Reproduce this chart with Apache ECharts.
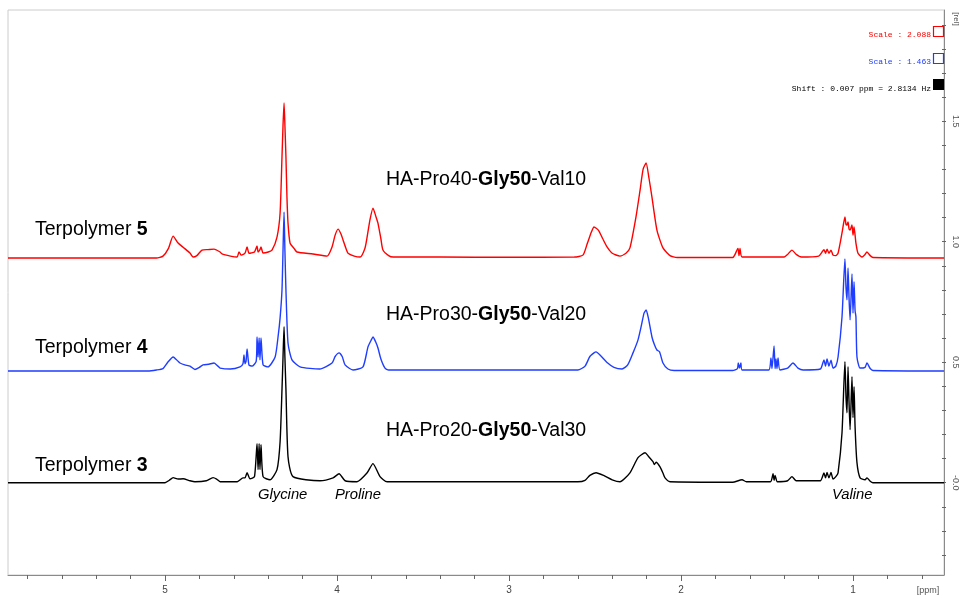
<!DOCTYPE html>
<html><head><meta charset="utf-8">
<script src="https://cdn.jsdelivr.net/npm/echarts@6/dist/echarts.min.js"></script>
<style>html,body{margin:0;padding:0;background:#fff}#c{width:960px;height:595px}</style>
</head><body><div id="c"></div>
<script>
// ---- data (ppm, intensity above own baseline) ----
const seriesNames = ['Terpolymer 5', 'Terpolymer 4', 'Terpolymer 3'];
const polymerLabels = ['HA-Pro40-Gly50-Val10', 'HA-Pro30-Gly50-Val20', 'HA-Pro20-Gly50-Val30'];
const baselineOffsets = [0.932, 0.4635, 0];
const peakNames = ['Glycine', 'Proline', 'Valine'];
const xTickValues = [1, 2, 3, 4, 5];
const yTickValues = [0, 0.5, 1.0, 1.5];
const yTickLabels = ['-0.0', '0.5', '1.0', '1.5'];
const scaleTexts = ['Scale : 2.088', 'Scale : 1.463', 'Shift : 0.007 ppm = 2.8134 Hz'];

const red5 = [
[5.913,0],[5.05,0],[5.012,0.008],[4.98,0.04],[4.953,0.091],[4.924,0.062],[4.895,0.045],[4.855,0.021],[4.837,0.004],[4.815,0.01],
[4.785,0.033],[4.75,0.035],[4.715,0.037],[4.68,0.025],[4.669,0.017],[4.62,0.008],[4.581,0.004],[4.57,0.025],[4.556,0.012],[4.535,0.02],
[4.523,0.046],[4.512,0.02],[4.5,0.021],[4.48,0.025],[4.465,0.05],[4.459,0.025],[4.448,0.035],[4.442,0.046],[4.43,0.021],[4.40,0.025],
[4.378,0.033],[4.349,0.087],[4.331,0.187],[4.32,0.419],[4.314,0.55],[4.308,0.643],[4.303,0.55],[4.297,0.419],[4.291,0.25],[4.285,0.145],
[4.273,0.062],[4.25,0.04],[4.233,0.025],[4.14,0.017],[4.058,0.008],[4.029,0.046],[4.011,0.095],[3.994,0.12],[3.977,0.1],[3.965,0.075],
[3.948,0.04],[3.936,0.02],[3.90,0.008],[3.866,0.004],[3.838,0.04],[3.826,0.083],[3.808,0.16],[3.791,0.207],[3.773,0.17],[3.762,0.145],
[3.745,0.08],[3.733,0.033],[3.70,0.01],[3.674,0.004],[3.4,0.004],[3.0,0.003],[2.62,0.004],[2.57,0.012],[2.545,0.06],[2.52,0.11],
[2.506,0.129],[2.48,0.115],[2.455,0.08],[2.43,0.046],[2.40,0.02],[2.355,0.008],[2.32,0.02],[2.297,0.042],[2.262,0.17],[2.238,0.282],
[2.22,0.37],[2.203,0.394],[2.186,0.33],[2.169,0.253],[2.14,0.116],[2.105,0.042],[2.064,0.01],[2.023,0.002],[1.7,0.002],[1.669,0.04],
[1.663,0.01],[1.657,0.04],[1.645,0.004],[1.4,0.004],[1.38,0.015],[1.355,0.033],[1.33,0.015],[1.30,0.004],[1.20,0.008],[1.18,0.025],
[1.169,0.035],[1.16,0.02],[1.151,0.037],[1.14,0.02],[1.128,0.033],[1.116,0.012],[1.10,0.01],[1.087,0.02],[1.064,0.104],[1.047,0.17],
[1.041,0.14],[1.035,0.137],[1.029,0.15],[1.023,0.12],[1.017,0.116],[1.006,0.137],[1.0,0.095],[0.994,0.129],[0.983,0.062],[0.971,0.02],
[0.948,0.004],[0.93,0.015],[0.919,0.025],[0.90,0.01],[0.884,0.002],[0.471,0]
];

const blue4 = [
[5.913,0],[5.10,0],[5.05,0.004],[5.012,0.01],[4.985,0.035],[4.953,0.058],[4.924,0.04],[4.913,0.033],[4.885,0.025],[4.855,0.02],
[4.826,0.006],[4.80,0.015],[4.779,0.025],[4.745,0.028],[4.715,0.033],[4.692,0.02],[4.68,0.012],[4.62,0.008],[4.564,0.017],[4.547,0.03],
[4.541,0.066],[4.535,0.03],[4.529,0.04],[4.523,0.091],[4.512,0.025],[4.494,0.02],[4.47,0.04],[4.465,0.141],[4.459,0.058],[4.453,0.137],
[4.448,0.046],[4.442,0.137],[4.43,0.025],[4.401,0.017],[4.36,0.058],[4.343,0.141],[4.331,0.22],[4.32,0.336],[4.314,0.5],[4.308,0.66],
[4.303,0.5],[4.297,0.336],[4.285,0.116],[4.262,0.046],[4.215,0.017],[4.10,0.008],[4.029,0.033],[4.011,0.06],[3.988,0.075],[3.97,0.06],
[3.953,0.025],[3.907,0.004],[3.849,0.017],[3.82,0.1],[3.80,0.13],[3.791,0.141],[3.775,0.12],[3.762,0.095],[3.745,0.05],[3.721,0.012],
[3.70,0.004],[3.0,0.004],[2.60,0.004],[2.558,0.02],[2.53,0.06],[2.506,0.075],[2.494,0.079],[2.47,0.065],[2.43,0.035],[2.39,0.015],
[2.343,0.008],[2.31,0.025],[2.279,0.075],[2.25,0.129],[2.23,0.19],[2.215,0.24],[2.203,0.253],[2.19,0.22],[2.169,0.141],[2.155,0.11],
[2.14,0.087],[2.125,0.08],[2.105,0.033],[2.076,0.008],[2.04,0.002],[1.7,0.002],[1.672,0.01],[1.667,0.033],[1.66,0.012],[1.652,0.033],
[1.645,0.004],[1.49,0.004],[1.477,0.054],[1.471,0.01],[1.459,0.104],[1.453,0.01],[1.448,0.05],[1.442,0.01],[1.436,0.054],[1.425,0.004],
[1.38,0.012],[1.349,0.033],[1.32,0.012],[1.29,0.004],[1.19,0.008],[1.169,0.046],[1.16,0.02],[1.151,0.05],[1.14,0.02],[1.128,0.045],
[1.116,0.012],[1.10,0.02],[1.087,0.058],[1.064,0.224],[1.047,0.465],[1.041,0.35],[1.035,0.295],[1.029,0.427],[1.023,0.3],[1.017,0.212],
[1.006,0.402],[1.0,0.24],[0.994,0.37],[0.988,0.25],[0.983,0.224],[0.977,0.058],[0.959,0.012],[0.93,0.015],[0.919,0.033],[0.90,0.01],
[0.884,0.002],[0.471,0]
];

const black3 = [
[5.913,0],[5.0,0],[4.975,0.01],[4.953,0.021],[4.924,0.015],[4.895,0.016],[4.855,0.008],[4.826,0.004],[4.76,0.008],[4.721,0.021],
[4.70,0.015],[4.68,0.004],[4.58,0.004],[4.547,0.02],[4.535,0.02],[4.523,0.041],[4.506,0.016],[4.48,0.025],[4.465,0.162],[4.459,0.054],
[4.453,0.162],[4.448,0.054],[4.442,0.158],[4.43,0.025],[4.39,0.012],[4.349,0.054],[4.331,0.17],[4.32,0.386],[4.314,0.52],[4.308,0.647],
[4.303,0.52],[4.297,0.386],[4.285,0.108],[4.256,0.025],[4.099,0.008],[4.023,0.02],[3.988,0.037],[3.953,0.008],[3.884,0.004],[3.826,0.04],
[3.791,0.079],[3.75,0.025],[3.709,0.004],[3.0,0.004],[2.60,0.004],[2.558,0.01],[2.53,0.03],[2.494,0.041],[2.45,0.03],[2.40,0.012],
[2.355,0.004],[2.297,0.041],[2.25,0.104],[2.209,0.124],[2.19,0.11],[2.163,0.087],[2.155,0.075],[2.145,0.085],[2.122,0.066],[2.105,0.04],
[2.093,0.02],[2.064,0.004],[1.7,0.002],[1.645,0.012],[1.62,0.004],[1.48,0.004],[1.465,0.037],[1.459,0.01],[1.453,0.03],[1.44,0.004],
[1.38,0.008],[1.355,0.025],[1.33,0.008],[1.19,0.008],[1.169,0.04],[1.16,0.02],[1.151,0.042],[1.14,0.02],[1.128,0.042],[1.116,0.015],
[1.10,0.025],[1.087,0.041],[1.064,0.207],[1.047,0.502],[1.041,0.36],[1.035,0.29],[1.029,0.481],[1.023,0.33],[1.017,0.22],[1.006,0.44],
[1.0,0.27],[0.994,0.398],[0.988,0.232],[0.977,0.083],[0.959,0.02],[0.93,0.012],[0.919,0.02],[0.90,0.006],[0.884,0],[0.471,0]
];

const spectra = [red5, blue4, black3];
const colors = ['#ff0000', '#1f3dff', '#000000'];

// ---- chart ----
const chart = echarts.init(document.getElementById('c'), null, {renderer: 'canvas'});
const FONT = 'Liberation Sans, Arial, sans-serif';
const axisGray = '#8a8a8a';

const series = spectra.map((pts, i) => ({
  name: seriesNames[i], type: 'line', xAxisIndex: 0, yAxisIndex: 0,
  data: pts.map(p => [p[0], p[1] + baselineOffsets[i]]),
  showSymbol: false, symbol: 'none', smooth: 0.2, clip: true,
  lineStyle: {color: colors[i], width: 1.4}, itemStyle: {color: colors[i]},
  animation: false, z: 5 - i
}));

const hidden = {show: false};
const hiddenAxis = (gi, min, max) => ({gridIndex: gi, type: 'value', show: false, min: min, max: max,
  axisLine: hidden, axisTick: hidden, axisLabel: hidden, splitLine: hidden});

const option = {
  animation: false,
  backgroundColor: '#ffffff',
  grid: [
    {left: 8, right: 16, top: 10, bottom: 20, show: true, borderColor: '#cccccc', borderWidth: 1, backgroundColor: 'transparent'},
    {left: 27.4, right: 38.2, top: 10, bottom: 20},
    {left: 165, right: 107, top: 10, bottom: 20},
    {left: 8, right: 16, top: 24.8, bottom: 40}
  ],
  xAxis: [
    {gridIndex: 0, type: 'value', inverse: true, min: 0.471, max: 5.913,
     axisLine: {show: true, onZero: false, lineStyle: {color: axisGray, width: 1}}, axisTick: hidden, axisLabel: hidden, splitLine: hidden},
    {gridIndex: 1, type: 'value', inverse: true, min: 0.6, max: 5.8, interval: 0.2,
     axisLine: {show: false, onZero: false}, axisTick: {show: true, length: 4, lineStyle: {color: '#666'}}, axisLabel: hidden, splitLine: hidden},
    {gridIndex: 2, type: 'value', inverse: true, min: 1, max: 5, interval: 1,
     axisLine: {show: false, onZero: false}, axisTick: {show: true, length: 6, lineStyle: {color: '#666'}},
     axisLabel: {show: true, margin: 10, fontSize: 10, color: '#444', fontFamily: FONT,
       formatter: v => { const k = xTickValues.indexOf(Math.round(v)); return k >= 0 ? String(xTickValues[k]) : ''; }},
     splitLine: hidden},
    hiddenAxis(3, 0, 1)
  ],
  yAxis: [
    {gridIndex: 0, type: 'value', position: 'right', min: -0.383, max: 1.961,
     axisLine: {show: true, onZero: false, lineStyle: {color: axisGray, width: 1}}, axisTick: hidden, axisLabel: hidden, splitLine: hidden},
    hiddenAxis(1, 0, 1),
    hiddenAxis(2, 0, 1),
    {gridIndex: 3, type: 'value', position: 'right', min: -0.3, max: 1.9, interval: 0.1,
     axisLine: {show: false, onZero: false}, axisTick: {show: true, length: 4, lineStyle: {color: '#666'}},
     axisLabel: {show: true, margin: 9, rotate: -90, fontSize: 9, color: '#555', fontFamily: FONT,
       formatter: v => { for (let k = 0; k < yTickValues.length; k++) { if (Math.abs(v - yTickValues[k]) < 1e-6) return yTickLabels[k]; } return ''; }},
     splitLine: hidden}
  ],
  series: series,
  graphic: [
    ...seriesNames.map((nm, i) => {
      const parts = nm.split(' ');
      return {type: 'text', x: 35, y: [230, 348, 466][i], z: 10,
        style: {text: '{n|' + parts[0] + ' }{b|' + parts[1] + '}', verticalAlign: 'middle',
          rich: {n: {fontSize: 19.5, fontFamily: FONT, fill: '#000'}, b: {fontSize: 19.5, fontFamily: FONT, fontWeight: 'bold', fill: '#000'}}}};
    }),
    ...polymerLabels.map((lb, i) => {
      const m = lb.split('-');
      return {type: 'text', x: 386, y: [180, 315, 431][i], z: 10,
        style: {text: '{n|' + m[0] + '-' + m[1] + '-}{b|' + m[2] + '}{n|-' + m[3] + '}', verticalAlign: 'middle',
          rich: {n: {fontSize: 19.5, fontFamily: FONT, fill: '#000'}, b: {fontSize: 19.5, fontFamily: FONT, fontWeight: 'bold', fill: '#000'}}}};
    }),
    ...peakNames.map((pn, i) => ({type: 'text', x: [258, 335, 832][i], y: 495, z: 10,
      style: {text: pn, fontSize: 14.8, fontStyle: 'italic', fontFamily: FONT, fill: '#000', verticalAlign: 'middle'}})),
    ...scaleTexts.map((t, i) => ({type: 'text', x: 931, y: [35, 62, 89][i], z: 10,
      style: {text: t, fontSize: 8, fontFamily: 'Liberation Mono, DejaVu Sans Mono, monospace', fill: colors[i], align: 'right', verticalAlign: 'middle'}})),
    {type: 'rect', shape: {x: 933.5, y: 26.5, width: 10, height: 10}, z: 10, style: {fill: 'none', stroke: colors[0], lineWidth: 1.2}},
    {type: 'rect', shape: {x: 933.5, y: 53.5, width: 10, height: 10}, z: 10, style: {fill: 'none', stroke: colors[1], lineWidth: 1.2}},
    {type: 'rect', shape: {x: 933, y: 79, width: 11, height: 11}, z: 10, style: {fill: '#000'}},
    {type: 'text', x: 928, y: 591, z: 10, style: {text: '[ppm]', fontSize: 9, fontFamily: FONT, fill: '#555', align: 'center', verticalAlign: 'middle'}},
    {type: 'text', x: 956, y: 19, rotation: -Math.PI / 2, z: 10, style: {text: '[rel]', fontSize: 8, fontFamily: FONT, fill: '#555', align: 'center', verticalAlign: 'middle'}}
  ]
};
chart.setOption(option);
</script>
</body></html>
